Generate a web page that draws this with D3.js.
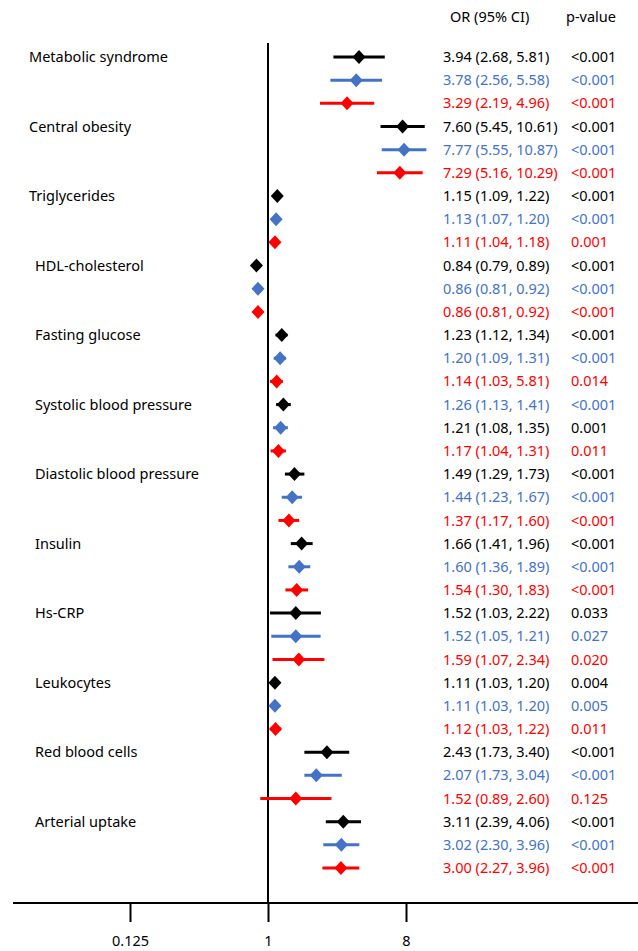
<!DOCTYPE html>
<html>
<head>
<meta charset="utf-8">
<script src="https://cdn.jsdelivr.net/npm/d3@7"></script>
<style>
  body { margin: 0; background: #fff; }
  svg { display: block; font-family: 'Noto Sans', 'Open Sans', sans-serif; }
</style>
</head>
<body>
<div id="chart"></div>
<script>
// categories, three models per category (black, blue, red)
const categories = [
  'Metabolic syndrome', 'Central obesity', 'Triglycerides', 'HDL-cholesterol',
  'Fasting glucose', 'Systolic blood pressure', 'Diastolic blood pressure',
  'Insulin', 'Hs-CRP', 'Leukocytes', 'Red blood cells', 'Arterial uptake'
]

const orValues = [
  [3.94, 3.78, 3.29], [7.60, 7.77, 7.29], [1.15, 1.13, 1.11], [0.84, 0.86, 0.86],
  [1.23, 1.20, 1.14], [1.26, 1.21, 1.17], [1.49, 1.44, 1.37], [1.66, 1.60, 1.54],
  [1.52, 1.52, 1.59], [1.11, 1.11, 1.12], [2.43, 2.07, 1.52], [3.11, 3.02, 3.00]
]
const ciLow = [
  [2.68, 2.56, 2.19], [5.45, 5.55, 5.16], [1.09, 1.07, 1.04], [0.79, 0.81, 0.81],
  [1.12, 1.09, 1.03], [1.13, 1.08, 1.04], [1.29, 1.23, 1.17], [1.41, 1.36, 1.30],
  [1.03, 1.05, 1.07], [1.03, 1.03, 1.03], [1.73, 1.73, 0.89], [2.39, 2.30, 2.27]
]
const ciHigh = [
  [5.81, 5.58, 4.96], [10.61, 10.87, 10.29], [1.22, 1.20, 1.18], [0.89, 0.92, 0.92],
  [1.34, 1.31, 1.25], [1.41, 1.35, 1.31], [1.73, 1.67, 1.60], [1.96, 1.89, 1.83],
  [2.22, 2.21, 2.34], [1.20, 1.20, 1.22], [3.40, 3.04, 2.60], [4.06, 3.96, 3.96]
]

// printed text, as it appears in the table
const orLabels = [
  ['3.94 (2.68, 5.81)', '3.78 (2.56, 5.58)', '3.29 (2.19, 4.96)'],
  ['7.60 (5.45, 10.61)', '7.77 (5.55, 10.87)', '7.29 (5.16, 10.29)'],
  ['1.15 (1.09, 1.22)', '1.13 (1.07, 1.20)', '1.11 (1.04, 1.18)'],
  ['0.84 (0.79, 0.89)', '0.86 (0.81, 0.92)', '0.86 (0.81, 0.92)'],
  ['1.23 (1.12, 1.34)', '1.20 (1.09, 1.31)', '1.14 (1.03, 5.81)'],
  ['1.26 (1.13, 1.41)', '1.21 (1.08, 1.35)', '1.17 (1.04, 1.31)'],
  ['1.49 (1.29, 1.73)', '1.44 (1.23, 1.67)', '1.37 (1.17, 1.60)'],
  ['1.66 (1.41, 1.96)', '1.60 (1.36, 1.89)', '1.54 (1.30, 1.83)'],
  ['1.52 (1.03, 2.22)', '1.52 (1.05, 1.21)', '1.59 (1.07, 2.34)'],
  ['1.11 (1.03, 1.20)', '1.11 (1.03, 1.20)', '1.12 (1.03, 1.22)'],
  ['2.43 (1.73, 3.40)', '2.07 (1.73, 3.04)', '1.52 (0.89, 2.60)'],
  ['3.11 (2.39, 4.06)', '3.02 (2.30, 3.96)', '3.00 (2.27, 3.96)']
]
const pLabels = [
  ['<0.001', '<0.001', '<0.001'], ['<0.001', '<0.001', '<0.001'],
  ['<0.001', '<0.001', '0.001'], ['<0.001', '<0.001', '<0.001'],
  ['<0.001', '<0.001', '0.014'], ['<0.001', '0.001', '0.011'],
  ['<0.001', '<0.001', '<0.001'], ['<0.001', '<0.001', '<0.001'],
  ['0.033', '0.027', '0.020'], ['0.004', '0.005', '0.011'],
  ['<0.001', '<0.001', '0.125'], ['<0.001', '<0.001', '<0.001']
]
// text colours of the first two rows are swapped here in the original
const swappedText = ['Systolic blood pressure']

const tickValues = [0.125, 1, 8]
const tickLabels = ['0.125', '1', '8']

const colors = ['#000000', '#4472C4', '#FF0000']

const width = 638
const height = 951

const svg = d3.select('#chart').append('svg')
  .attr('width', width)
  .attr('height', height)

const x = d3.scaleLog().base(2)
  .domain([0.125, 8])
  .range([130, 406])

const rows = []
categories.forEach(function (cat, i) {
  for (let s = 0; s < 3; s++) {
    let tc = s
    if (swappedText.indexOf(cat) >= 0 && s < 2) tc = 1 - s
    rows.push({
      cat: cat, ci: i, s: s,
      or: orValues[i][s], lo: ciLow[i][s], hi: ciHigh[i][s],
      orText: orLabels[i][s], pText: pLabels[i][s], textColor: colors[tc]
    })
  }
})

const y = d3.scalePoint()
  .domain(d3.range(rows.length))
  .range([57, 868])

const axisY = 903

// reference line at OR = 1
svg.append('line')
  .attr('x1', x(1)).attr('x2', x(1))
  .attr('y1', 43).attr('y2', axisY)
  .attr('stroke', '#000').attr('stroke-width', 2)

// x axis
const axis = d3.axisBottom(x)
  .tickValues(tickValues)
  .tickFormat(function (d, i) { return tickLabels[i] })
  .tickSize(19)
  .tickPadding(14)

const gAxis = svg.append('g')
  .attr('transform', 'translate(0,' + axisY + ')')
  .call(axis)
gAxis.select('.domain').remove()
gAxis.selectAll('.tick line').attr('stroke', '#000').attr('stroke-width', 2)
gAxis.selectAll('.tick text')
  .attr('fill', '#000')
  .style('font-size', '14.5px')
  .style('font-family', "'Noto Sans', sans-serif")
svg.append('line')
  .attr('x1', 13).attr('x2', width)
  .attr('y1', axisY).attr('y2', axisY)
  .attr('stroke', '#000').attr('stroke-width', 2)

// headers
svg.append('text').attr('x', 450).attr('y', 17)
  .attr('dy', '0.35em').style('font-size', '14.5px').text('OR (95% CI)')
svg.append('text').attr('x', 566).attr('y', 17)
  .attr('dy', '0.35em').style('font-size', '14.5px').text('p-value')

// category labels
svg.selectAll('.cat')
  .data(categories)
  .enter()
  .append('text')
  .attr('class', 'cat')
  .attr('x', function (d, i) { return i < 3 ? 29 : 35 })
  .attr('y', function (d, i) { return y(i * 3) })
  .attr('dy', '0.35em')
  .style('font-size', '14.5px')
  .attr('fill', '#000')
  .text(function (d) { return d })

// confidence intervals
svg.selectAll('.ci')
  .data(rows)
  .enter()
  .append('line')
  .attr('class', 'ci')
  .attr('x1', function (d) { return x(d.lo) })
  .attr('x2', function (d) { return x(d.hi) })
  .attr('y1', function (d, i) { return y(i) })
  .attr('y2', function (d, i) { return y(i) })
  .attr('stroke', function (d) { return colors[d.s] })
  .attr('stroke-width', 3)

// diamonds
svg.selectAll('.pt')
  .data(rows)
  .enter()
  .append('path')
  .attr('class', 'pt')
  .attr('d', 'M0,-7L6.5,0L0,7L-6.5,0Z')
  .attr('transform', function (d, i) { return 'translate(' + x(d.or) + ',' + y(i) + ')' })
  .attr('fill', function (d) { return colors[d.s] })

// table text
svg.selectAll('.ortext')
  .data(rows)
  .enter()
  .append('text')
  .attr('class', 'ortext')
  .attr('x', 443)
  .attr('y', function (d, i) { return y(i) })
  .attr('dy', '0.35em')
  .style('font-size', '14.5px')
  .attr('fill', function (d) { return d.textColor })
  .text(function (d) { return d.orText })

svg.selectAll('.ptext')
  .data(rows)
  .enter()
  .append('text')
  .attr('class', 'ptext')
  .attr('x', 571)
  .attr('y', function (d, i) { return y(i) })
  .attr('dy', '0.35em')
  .style('font-size', '14.5px')
  .attr('fill', function (d) { return d.textColor })
  .text(function (d) { return d.pText })
</script>
</body>
</html>
